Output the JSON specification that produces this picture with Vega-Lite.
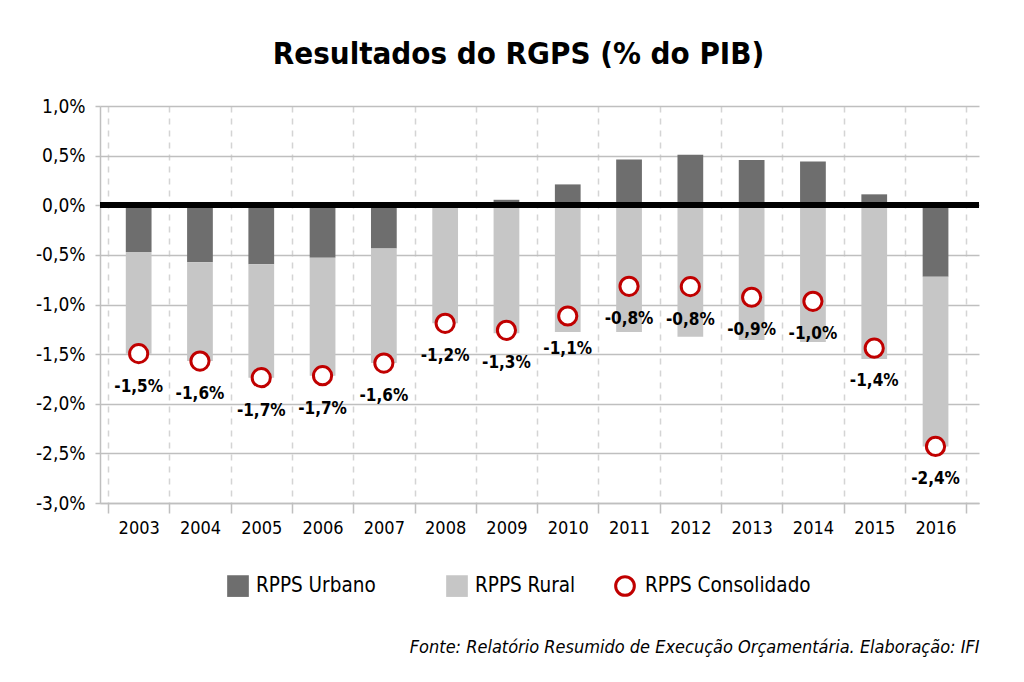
{
  "$schema": "https://vega.github.io/schema/vega-lite/v6.json",
  "width": 879,
  "height": 397,
  "autosize": "none",
  "padding": {"left": 100, "top": 106, "right": 45, "bottom": 179},
  "background": "white",
  "config": {
    "font": "DejaVu Sans Condensed",
    "view": {"stroke": null},
    "locale": {
      "number": {"decimal": ",", "thousands": ".", "grouping": [3], "currency": ["R$", ""], "minus": "-"}
    }
  },
  "title": {
    "text": "Resultados do RGPS (% do PIB)",
    "font": "DejaVu Sans Condensed",
    "fontSize": 31,
    "fontWeight": "bold",
    "color": "black",
    "anchor": "middle",
    "dx": -21,
    "offset": 26
  },
  "resolve": {"legend": {"color": "independent"}},
  "data": {
    "values": [
      {"year": "2003", "series": "RPPS Urbano", "value": -0.0047},
      {"year": "2004", "series": "RPPS Urbano", "value": -0.00575},
      {"year": "2005", "series": "RPPS Urbano", "value": -0.00595},
      {"year": "2006", "series": "RPPS Urbano", "value": -0.0053},
      {"year": "2007", "series": "RPPS Urbano", "value": -0.00435},
      {"year": "2008", "series": "RPPS Urbano", "value": 0.0},
      {"year": "2009", "series": "RPPS Urbano", "value": 0.00055},
      {"year": "2010", "series": "RPPS Urbano", "value": 0.0021},
      {"year": "2011", "series": "RPPS Urbano", "value": 0.0046},
      {"year": "2012", "series": "RPPS Urbano", "value": 0.0051},
      {"year": "2013", "series": "RPPS Urbano", "value": 0.00455},
      {"year": "2014", "series": "RPPS Urbano", "value": 0.0044},
      {"year": "2015", "series": "RPPS Urbano", "value": 0.0011},
      {"year": "2016", "series": "RPPS Urbano", "value": -0.0072},
      {"year": "2003", "series": "RPPS Rural", "value": -0.01025},
      {"year": "2004", "series": "RPPS Rural", "value": -0.00995},
      {"year": "2005", "series": "RPPS Rural", "value": -0.01142},
      {"year": "2006", "series": "RPPS Rural", "value": -0.01187},
      {"year": "2007", "series": "RPPS Rural", "value": -0.01155},
      {"year": "2008", "series": "RPPS Rural", "value": -0.0119},
      {"year": "2009", "series": "RPPS Rural", "value": -0.0129},
      {"year": "2010", "series": "RPPS Rural", "value": -0.01277},
      {"year": "2011", "series": "RPPS Rural", "value": -0.01277},
      {"year": "2012", "series": "RPPS Rural", "value": -0.01324},
      {"year": "2013", "series": "RPPS Rural", "value": -0.01358},
      {"year": "2014", "series": "RPPS Rural", "value": -0.01378},
      {"year": "2015", "series": "RPPS Rural", "value": -0.0155},
      {"year": "2016", "series": "RPPS Rural", "value": -0.0171},
      {"year": "2003", "series": "RPPS Consolidado", "value": -0.01495},
      {"year": "2004", "series": "RPPS Consolidado", "value": -0.0157},
      {"year": "2005", "series": "RPPS Consolidado", "value": -0.01737},
      {"year": "2006", "series": "RPPS Consolidado", "value": -0.01717},
      {"year": "2007", "series": "RPPS Consolidado", "value": -0.0159},
      {"year": "2008", "series": "RPPS Consolidado", "value": -0.0119},
      {"year": "2009", "series": "RPPS Consolidado", "value": -0.0126},
      {"year": "2010", "series": "RPPS Consolidado", "value": -0.01116},
      {"year": "2011", "series": "RPPS Consolidado", "value": -0.00817},
      {"year": "2012", "series": "RPPS Consolidado", "value": -0.0082},
      {"year": "2013", "series": "RPPS Consolidado", "value": -0.00927},
      {"year": "2014", "series": "RPPS Consolidado", "value": -0.00968},
      {"year": "2015", "series": "RPPS Consolidado", "value": -0.0144},
      {"year": "2016", "series": "RPPS Consolidado", "value": -0.0243}
    ]
  },
  "encoding": {
    "x": {
      "field": "year",
      "type": "nominal",
      "scale": {"paddingInner": 0, "paddingOuter": 0.17, "align": 0.385},
      "axis": {
        "title": "Fonte: Relatório Resumido de Execução Orçamentária. Elaboração: IFI",
        "titleFont": "DejaVu Sans Condensed",
        "titleFontSize": 18,
        "titleFontStyle": "italic",
        "titleFontWeight": "normal",
        "titleColor": "black",
        "titleAnchor": "end",
        "titlePadding": 101,
        "labelAngle": 0,
        "labelFontSize": 18,
        "labelColor": "black",
        "labelPadding": 6,
        "tickBand": "extent",
        "tickColor": "#bfbfbf",
        "tickSize": 10,
        "tickWidth": 1.5,
        "domain": true,
        "domainColor": "#bfbfbf",
        "domainWidth": 1.5,
        "grid": true,
        "gridColor": "#d4d4d4",
        "gridDash": [6, 6],
        "gridWidth": 1.5
      }
    }
  },
  "layer": [
    {
      "transform": [{"filter": "datum.series !== 'RPPS Consolidado'"}],
      "mark": {"type": "bar", "width": {"band": 0.42}},
      "encoding": {
        "y": {
          "field": "value",
          "type": "quantitative",
          "stack": "zero",
          "scale": {"domain": [-0.03, 0.01], "nice": false, "zero": false},
          "axis": {
            "title": null,
            "format": ".1%",
            "values": [-0.03, -0.025, -0.02, -0.015, -0.01, -0.005, 0, 0.005, 0.01],
            "labelFontSize": 19,
            "labelColor": "black",
            "labelPadding": 10,
            "tickSize": 5,
            "tickColor": "#bfbfbf",
            "tickWidth": 1.5,
            "domain": true,
            "domainColor": "#bfbfbf",
            "domainWidth": 1.5,
            "grid": true,
            "gridColor": "#bfbfbf",
            "gridWidth": 1.5
          }
        },
        "color": {
          "field": "series",
          "type": "nominal",
          "scale": {
            "domain": ["RPPS Urbano", "RPPS Rural", "RPPS Consolidado"],
            "range": ["#6e6e6e", "#c6c6c6", "#c00000"]
          },
          "legend": {
            "values": ["RPPS Urbano", "RPPS Rural"],
            "orient": "none",
            "legendX": 127,
            "legendY": 469,
            "direction": "horizontal",
            "title": null,
            "labelFontSize": 20.5,
            "labelColor": "black",
            "labelLimit": 400,
            "labelOffset": 7,
            "columnPadding": 70,
            "symbolType": "square",
            "symbolSize": 470,
            "symbolStrokeWidth": 0
          }
        },
        "order": {"field": "series", "sort": "descending"}
      }
    },
    {
      "mark": {"type": "rule", "color": "black", "strokeWidth": 5},
      "encoding": {"y": {"datum": 0}, "x": {}}
    },
    {
      "transform": [{"filter": "datum.series === 'RPPS Consolidado'"}],
      "mark": {"type": "point", "shape": "circle", "filled": false, "fill": "white", "fillOpacity": 1, "opacity": 1, "strokeWidth": 3, "size": 330},
      "encoding": {
        "y": {"field": "value", "type": "quantitative"},
        "color": {
          "field": "series",
          "type": "nominal",
          "legend": {
            "values": ["RPPS Consolidado"],
            "orient": "none",
            "legendX": 514,
            "legendY": 469,
            "direction": "horizontal",
            "title": null,
            "labelFontSize": 20.5,
            "labelColor": "black",
            "labelLimit": 400,
            "labelOffset": 9,
            "symbolType": "circle",
            "symbolSize": 350,
            "symbolStrokeWidth": 3,
            "symbolFillColor": "white"
          }
        }
      }
    },
    {
      "transform": [{"filter": "datum.series === 'RPPS Consolidado'"}],
      "mark": {"type": "text", "dy": 33, "fontSize": 17, "fontWeight": "bold", "color": "black", "baseline": "middle"},
      "encoding": {
        "y": {"field": "value", "type": "quantitative"},
        "text": {"field": "value", "type": "quantitative", "format": ".1%"}
      }
    }
  ]
}
